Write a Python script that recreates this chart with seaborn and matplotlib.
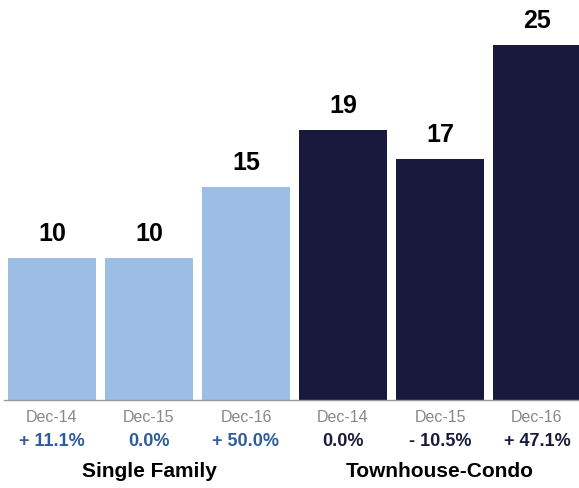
import numpy as np
import pandas as pd
import seaborn as sns
import matplotlib.pyplot as plt

# Data
groups = ["Single Family", "Single Family", "Single Family",
          "Townhouse-Condo", "Townhouse-Condo", "Townhouse-Condo"]
periods = ["Dec-14", "Dec-15", "Dec-16", "Dec-14", "Dec-15", "Dec-16"]
values = [10, 10, 15, 19, 17, 25]
changes = ["+ 11.1%", "0.0%", "+ 50.0%", "0.0%", "- 10.5%", "+ 47.1%"]

group_names = ["Single Family", "Townhouse-Condo"]
bar_colors = {"Single Family": "#9dbee4", "Townhouse-Condo": "#19193d"}
change_colors = {"Single Family": "#2e5d9c", "Townhouse-Condo": "#1b1b40"}

df = pd.DataFrame({
    "key": [f"{g} {p}" for g, p in zip(groups, periods)],
    "group": groups,
    "period": periods,
    "value": values,
    "change": changes,
})

sns.set_style("white")
plt.rcParams["font.family"] = ["Liberation Sans", "DejaVu Sans"]

fig = plt.figure(figsize=(5.79, 4.88), dpi=100)
ax = fig.add_axes([3.5 / 579, 88 / 488, 582 / 579, 400 / 488])

sns.barplot(data=df, x="key", y="value", hue="group", palette=bar_colors,
            dodge=False, width=0.907, legend=False, ax=ax, saturation=1,
            linewidth=0)

ax.set_xlim(-0.5, 5.5)
ax.set_ylim(0, 28.17)
ax.set_xlabel("")
ax.set_ylabel("")
ax.set_yticks([])

# boundary ticks only
ax.set_xticks([-0.5, 2.5, 5.5])
ax.set_xticklabels([])
ax.tick_params(axis="x", length=5, width=1, color="#999999", direction="out")

for s in ["top", "left", "right"]:
    ax.spines[s].set_visible(False)
ax.spines["bottom"].set_color("#999999")
ax.spines["bottom"].set_linewidth(1)

trans = ax.get_xaxis_transform()
for i, row in df.iterrows():
    ax.annotate(str(row["value"]), (i, row["value"]), xytext=(0, 12.2),
                textcoords="offset points", ha="center", va="baseline",
                fontsize=18, fontweight="bold", color="black")
    ax.text(i, -0.045, row["period"], transform=trans, ha="center",
            va="center", fontsize=11.5, color="#888888")
    ax.text(i, -0.105, row["change"], transform=trans, ha="center",
            va="center", fontsize=13, fontweight="bold",
            color=change_colors[row["group"]])

for j, name in enumerate(group_names):
    ax.text(j * 3 + 1, -0.178, name, transform=trans, ha="center",
            va="center", fontsize=15, fontweight="bold", color="black")

fig.savefig("out.png", dpi=100)
